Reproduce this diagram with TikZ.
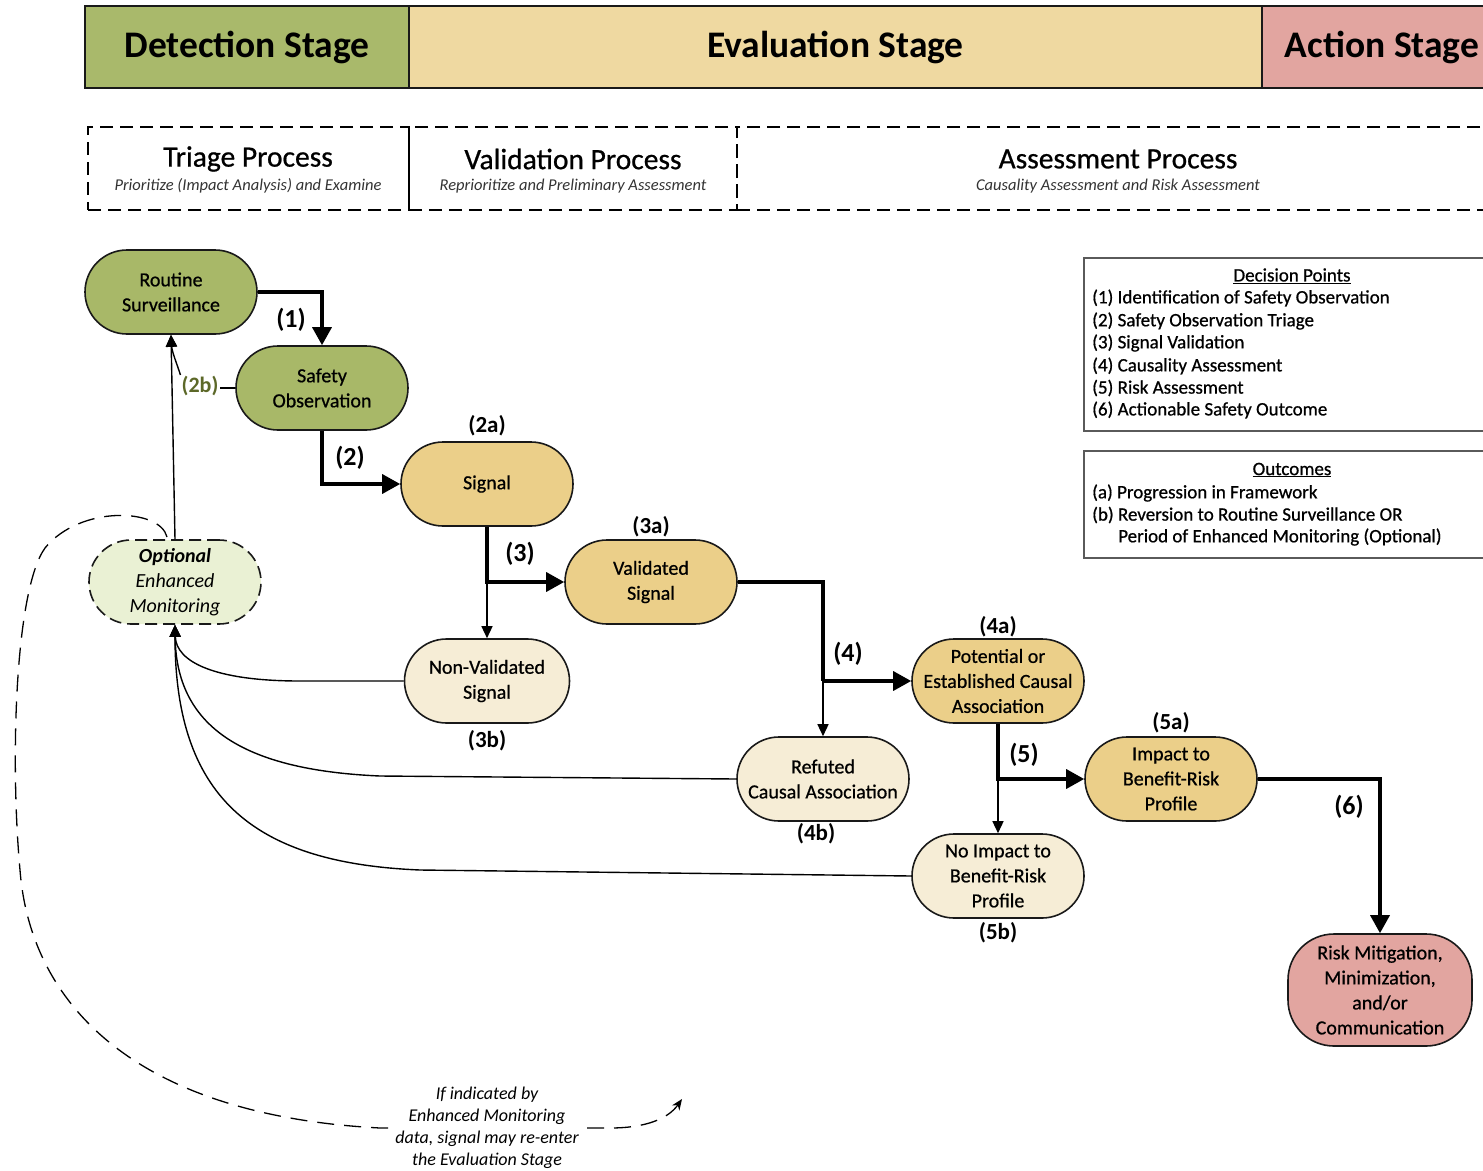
\documentclass[tikz,border=0pt]{standalone}
\usepackage{fontspec}
\setmainfont{Carlito}
\newfontfamily\semifont[FakeBold=0.7]{Carlito}
\usetikzlibrary{arrows.meta}
\definecolor{detg}{RGB}{169,185,107}
\definecolor{evaly}{RGB}{239,217,161}
\definecolor{actr}{RGB}{226,165,160}
\definecolor{nodeg}{RGB}{168,184,104}
\definecolor{nodey}{RGB}{235,207,137}
\definecolor{nodel}{RGB}{246,237,214}
\definecolor{nodelg}{RGB}{234,241,212}
\definecolor{olivetxt}{RGB}{92,104,40}
\definecolor{edgec}{RGB}{25,25,25}
\definecolor{legc}{RGB}{90,90,90}
\begin{document}
\begin{tikzpicture}[x=1pt,y=-1pt,
  hdr/.style={draw=edgec, line width=2pt, minimum height=82pt, inner sep=0pt, font=\bfseries\fontsize{37.5}{40}\selectfont},
  pbox/.style={draw=black, line width=1.8pt, dash pattern=on 13pt off 7pt, minimum height=83pt, inner sep=0pt},
  ptitle/.style={font=\semifont\fontsize{29.5}{31}\selectfont, inner sep=0pt},
  psub/.style={font=\itshape\fontsize{16.5}{18}\selectfont, text=black!80, inner sep=0pt},
  box/.style={draw=edgec, line width=1.6pt, rounded corners=42pt, minimum width=172pt, minimum height=84pt, align=center, inner sep=1pt, font=\semifont\fontsize{20}{25}\selectfont},
  lblbig/.style={font=\bfseries\fontsize{26}{28}\selectfont, inner sep=1pt},
  lblsub/.style={font=\bfseries\fontsize{23}{25}\selectfont, inner sep=1pt},
  thickarr/.style={line width=3.4pt, line join=miter, -{Triangle[length=18pt,width=19pt]}},
  thickln/.style={line width=3.4pt, line join=miter},
  thinarr/.style={line width=1.4pt, -{Triangle[length=12pt,width=11pt]}},
  thinln/.style={line width=1.4pt},
  legbox/.style={draw=legc, line width=1.6pt, inner sep=0pt},
  legtxt/.style={font=\semifont\fontsize{19}{22}\selectfont, inner sep=0pt, anchor=west},
  note/.style={font=\itshape\fontsize{18}{22}\selectfont, align=center, fill=white, inner sep=2pt},
  dashret/.style={line width=1.3pt, dash pattern=on 17pt off 10pt, -{Stealth[length=11pt,width=9pt]}}
]
\clip (0,0) rectangle (1483,1170);
\fill[white] (0,0) rectangle (1483,1170);

% stage header
\node[hdr, fill=detg, minimum width=324pt] (hdet) at (247,47) {Detection Stage};
\node[hdr, fill=evaly, minimum width=853pt] (heval) at (835.5,47) {Evaluation Stage};
\node[hdr, fill=actr, minimum width=240pt] (hact) at (1382,47) {Action Stage};

% process boxes
\node[pbox, minimum width=321pt] (ptri) at (248.5,168.5) {};
\node[pbox, minimum width=328pt] (pval) at (573,168.5) {};
\node[pbox, minimum width=760pt] (pass) at (1117,168.5) {};
\node[ptitle] (ttri) at (248,159) {Triage Process};
\node[psub] (stri) at (248,186) {Prioritize (Impact Analysis) and Examine};
\node[ptitle] (tval) at (573,159) {Validation Process};
\node[psub] (sval) at (573,186) {Reprioritize and Preliminary Assessment};
\node[ptitle] (tass) at (1118,159) {Assessment Process};
\node[psub] (sass) at (1118,186) {Causality Assessment and Risk Assessment};

% legend
\node[legbox, minimum width=416pt, minimum height=173pt] (ldp) at (1292,344.5) {};
\node[legtxt, anchor=center] (ldpt) at (1292,276) {\underline{Decision Points}};
\node[legtxt] (ld1) at (1092,298) {(1) Identification of Safety Observation};
\node[legtxt] (ld2) at (1092,321) {(2) Safety Observation Triage};
\node[legtxt] (ld3) at (1092,343) {(3) Signal Validation};
\node[legtxt] (ld4) at (1092,366) {(4) Causality Assessment};
\node[legtxt] (ld5) at (1092,388) {(5) Risk Assessment};
\node[legtxt] (ld6) at (1092,410) {(6) Actionable Safety Outcome};
\node[legbox, minimum width=416pt, minimum height=107pt] (lout) at (1292,504.5) {};
\node[legtxt, anchor=center] (loutt) at (1292,470) {\underline{Outcomes}};
\node[legtxt] (lo1) at (1092,493) {(a) Progression in Framework};
\node[legtxt] (lo2) at (1092,515) {(b) Reversion to Routine Surveillance OR};
\node[legtxt] (lo3) at (1118,537) {Period of Enhanced Monitoring (Optional)};

% nodes
\node[box, fill=nodeg] (rs) at (171,292) {Routine\\Surveillance};
\node[box, fill=nodeg] (so) at (322,388) {Safety\\Observation};
\node[box, fill=nodey] (sig) at (487,484) {Signal};
\node[box, fill=nodey] (vs) at (651,582) {Validated\\Signal};
\node[box, fill=nodel, minimum width=165pt] (nv) at (487,681) {Non-Validated\\Signal};
\node[box, fill=nodel] (rc) at (823,779) {Refuted\\Causal Association};
\node[box, fill=nodey] (pc) at (998,681) {Potential or\\Established Causal\\Association};
\node[box, fill=nodel] (ni) at (998,876) {No Impact to\\Benefit-Risk\\Profile};
\node[box, fill=nodey] (ib) at (1171,779) {Impact to\\Benefit-Risk\\Profile};
\node[box, fill=actr, minimum width=184pt, minimum height=112pt, rounded corners=46pt] (rm) at (1380,990) {Risk Mitigation,\\Minimization,\\and/or\\Communication};
\node[box, fill=nodelg, dash pattern=on 12pt off 6pt, font=\fontsize{20}{25}\selectfont] (om) at (175,582) {\textbf{\textit{Optional}}\\\textit{Enhanced}\\\textit{Monitoring}};

% branch points
\coordinate (b3) at (487,582);
\coordinate (b4) at (823,681);
\coordinate (b5) at (998,779);

% main flow
\draw[thickarr] (rs.east) -| (so.north);
\draw[thickarr] (so.south) |- (sig.west);
\draw[thickarr] (sig.south) |- (vs.west);
\draw[thinarr] (b3) -- (nv.north);
\draw[thickln] (vs.east) -| (b4);
\draw[thickarr] (b4) -- (pc.west);
\draw[thinarr] (b4) -- (rc.north);
\draw[thickarr] (pc.south) |- (ib.west);
\draw[thinarr] (b5) -- (ni.north);
\draw[thickarr] (ib.east) -| (rm.north);

% labels
\node[lblbig] (l1) at (291,320) {(1)};
\node[lblbig] (l2) at (350,458) {(2)};
\node[lblbig] (l3) at (520,554) {(3)};
\node[lblbig] (l4) at (848,654) {(4)};
\node[lblbig] (l5) at (1024,755) {(5)};
\node[lblbig] (l6) at (1349,807) {(6)};
\node[lblsub] (l2a) at (487,426) {(2a)};
\node[lblsub] (l3a) at (651,527) {(3a)};
\node[lblsub] (l3b) at (487,741) {(3b)};
\node[lblsub] (l4a) at (998,627) {(4a)};
\node[lblsub] (l4b) at (816,834) {(4b)};
\node[lblsub] (l5a) at (1171,723) {(5a)};
\node[lblsub] (l5b) at (998,933) {(5b)};
\node[lblsub, text=olivetxt, font=\bfseries\fontsize{22}{24}\selectfont] (l2b) at (200,386) {(2b)};

% reversion connectors
\draw[thinln] (so.west) -- (so.west -| l2b.east);
\draw[thinarr] (l2b.north west) .. controls (177,364) and (172,352) .. (rs.south);
\draw[thinarr] (om.north) -- (rs.south);
\draw[thinarr] (nv.west) -- (300,681) .. controls (215,681) and (176,662) .. (om.south);
\draw[thinarr] (rc.west) -- (380,776) .. controls (240,770) and (176,725) .. (om.south);
\draw[thinarr] (ni.west) -- (420,870) .. controls (250,863) and (175,795) .. (om.south);

% dashed re-entry path
\coordinate (dstart) at (167,537);
\coordinate (dend) at (682,1099);
\draw[dashret] (dstart) .. controls (160,508) and (80,505) .. (45,548)
  .. controls (15,590) and (10,760) .. (20,870)
  .. controls (30,1000) and (130,1115) .. (380,1128)
  -- (610,1128) .. controls (645,1128) and (668,1119) .. (dend);
\node[note] (nt) at (487,1128) {If indicated by\\Enhanced Monitoring\\data, signal may re-enter\\the Evaluation Stage};
\end{tikzpicture}
\end{document}
